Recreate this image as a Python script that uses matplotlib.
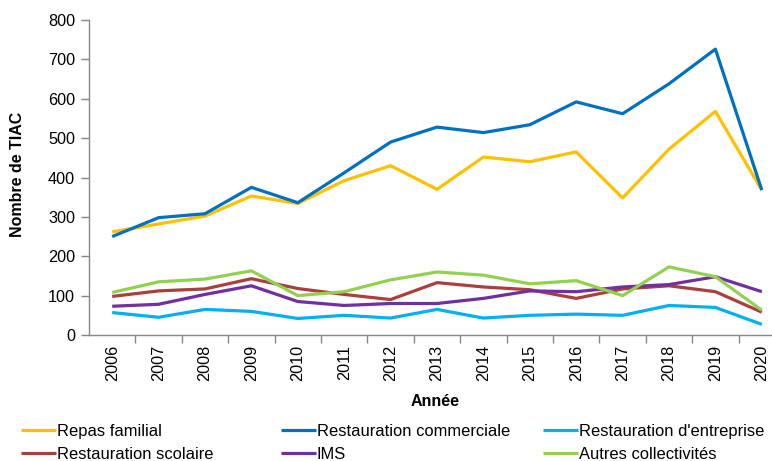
import matplotlib

matplotlib.use("Agg")
import matplotlib.pyplot as plt
from matplotlib.ticker import FixedLocator, NullFormatter

plt.rcParams["font.family"] = ["Liberation Sans", "DejaVu Sans"]

years = list(range(2006, 2021))
repas_familial = [262, 282, 302, 353, 334, 392, 430, 370, 452, 440, 465, 348, 472, 568, 368]
resto_commerciale = [250, 298, 308, 375, 336, 412, 490, 528, 514, 534, 592, 562, 638, 726, 368]
resto_entreprise = [57, 45, 65, 60, 42, 50, 43, 65, 43, 50, 53, 50, 75, 70, 27]
resto_scolaire = [98, 112, 117, 143, 118, 103, 90, 133, 122, 115, 93, 117, 125, 110, 58]
ims = [73, 78, 103, 125, 85, 75, 80, 80, 93, 112, 110, 122, 128, 148, 110]
autres = [108, 135, 142, 163, 100, 110, 140, 160, 152, 130, 138, 100, 173, 148, 63]

series = [
    ("Repas familial", repas_familial, "#FFC000"),
    ("Restauration commerciale", resto_commerciale, "#0070C0"),
    ("Restauration d'entreprise", resto_entreprise, "#00B0F0"),
    ("Restauration scolaire", resto_scolaire, "#A9403D"),
    ("IMS", ims, "#7030A0"),
    ("Autres collectivités", autres, "#92D050"),
]

W, H = 772, 461
fig = plt.figure(figsize=(W / 100, H / 100), dpi=100)
ax = fig.add_axes([89 / W, 126 / H, 683 / W, 315 / H])

lines = {}
for name, vals, col in series:
    (ln,) = ax.plot(years, vals, color=col, lw=2.3, solid_joinstyle="round",
                    solid_capstyle="butt", label=name)
    lines[name] = ln

ax.set_ylim(0, 800)
ax.set_xlim(2005.5, 2005.5 + 683 / 46.4)
ax.set_yticks(range(0, 801, 100))
ax.set_xticks(years)
ax.set_xticklabels([str(y) for y in years], rotation=90, fontsize=11.7)
ax.tick_params(axis="x", length=0, pad=7)
ax.xaxis.set_minor_locator(FixedLocator([y + 0.5 for y in years]))
ax.xaxis.set_minor_formatter(NullFormatter())
ax.tick_params(axis="x", which="minor", length=6, color="#868686", width=1)
ax.tick_params(axis="y", labelsize=11.7, length=6, color="#868686", width=1, pad=4)

for s in ("top", "right"):
    ax.spines[s].set_visible(False)
for s in ("left", "bottom"):
    ax.spines[s].set_color("#868686")
    ax.spines[s].set_linewidth(1)

fig.text(18 / W, 1 - 174 / H, "Nombre de TIAC", rotation=90, ha="center",
         va="center", fontsize=11.5, fontweight="bold")
fig.text(435 / W, 1 - 401 / H, "Année", ha="center", va="center",
         fontsize=11.5, fontweight="bold")

# legend: three columns of two entries each
columns = [
    ("Repas familial", "Restauration scolaire"),
    ("Restauration commerciale", "IMS"),
    ("Restauration d'entreprise", "Autres collectivités"),
]
col_x = [21, 281, 543]
for names, x in zip(columns, col_x):
    fig.legend([lines[n] for n in names], names, loc="upper left",
               bbox_to_anchor=(x / W, 1 - 424 / H), frameon=False,
               fontsize=11.9, handlelength=2.1, handletextpad=0.05,
               labelspacing=0.5, borderpad=0, borderaxespad=0)

fig.savefig("out.png", dpi=100)
